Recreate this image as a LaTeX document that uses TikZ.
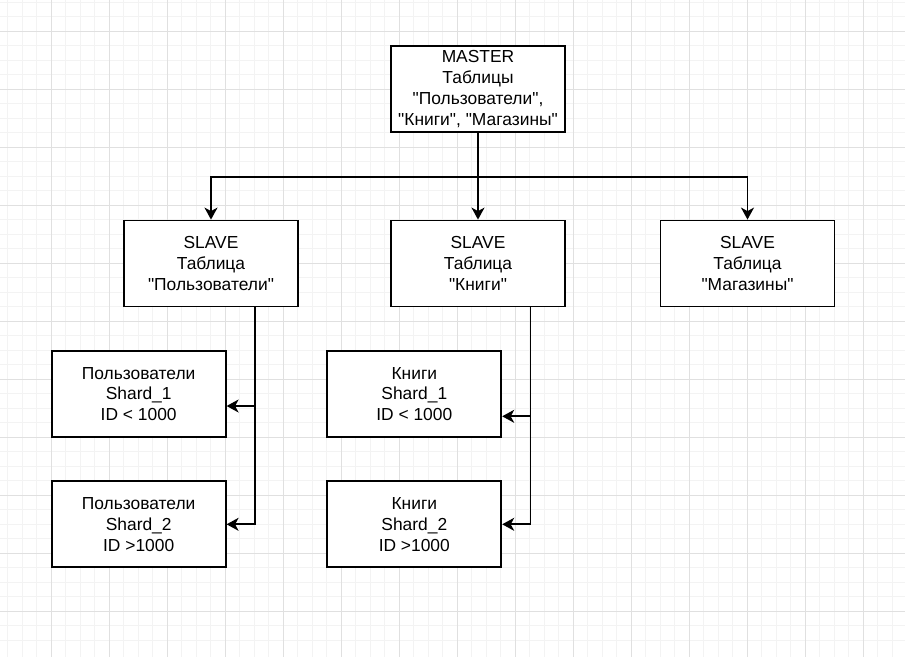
\documentclass[tikz,border=0pt]{standalone}
\usepackage{fontspec}
\newfontfamily\libsans{Liberation Sans}
\usetikzlibrary{arrows.meta}
\definecolor{gminor}{HTML}{F3F3F3}
\definecolor{gmajor}{HTML}{E0E0E0}
\tikzset{
  box/.style={draw=black, line width=1.8pt, fill=white, rectangle,
    minimum width=174pt, minimum height=86pt, inner sep=0pt, align=center,
    font=\libsans\fontsize{17.4}{20.9}\selectfont},
  arr/.style={draw=black, line width=1.8pt,
    -{Stealth[length=12pt, width=13pt, inset=3.5pt]}},
  gridminor/.style={gminor, line width=1pt},
  gridmajor/.style={gmajor, line width=1pt}
}
\begin{document}
\begin{tikzpicture}[x=1pt, y=-1pt]
\useasboundingbox (0,0) rectangle (905,657);
\fill[white] (0,0) rectangle (905,657);
% grid
\foreach \i in {1,...,62}{
  \pgfmathsetmacro\xx{-7+14.5*\i}
  \draw[gridminor] (\xx,0) -- (\xx,657);
}
\foreach \i in {1,...,46}{
  \pgfmathsetmacro\yy{-27+14.5*\i}
  \draw[gridminor] (0,\yy) -- (905,\yy);
}
\foreach \i in {1,...,16}{
  \pgfmathsetmacro\xx{-7+58*\i}
  \draw[gridmajor] (\xx,0) -- (\xx,657);
}
\foreach \i in {1,...,12}{
  \pgfmathsetmacro\yy{-27+58*\i}
  \draw[gridmajor] (0,\yy) -- (905,\yy);
}
% nodes
\node[box] (m) at (478,89) {MASTER\\Таблицы\\"Пользователи",\\"Книги", "Магазины"};
\node[box] (s1) at (211,263.5) {SLAVE\\Таблица\\"Пользователи"};
\node[box] (s2) at (478,263.5) {SLAVE\\Таблица\\"Книги"};
\node[box] (s3) at (747.5,263.5) {SLAVE\\Таблица\\"Магазины"};
\node[box] (u1) at (138.7,394) {Пользователи\\Shard\_1\\ID < 1000};
\node[box] (u2) at (138.7,524.3) {Пользователи\\Shard\_2\\ID >1000};
\node[box] (b1) at (414.3,394) {Книги\\Shard\_1\\ID < 1000};
\node[box] (b2) at (414.3,524.3) {Книги\\Shard\_2\\ID >1000};
% connectors
\coordinate (j) at (478,176.7);
\draw[arr] (m.south) -- (s2.north);
\draw[arr] (m.south) -- (j) -| (s1.north);
\draw[arr] (m.south) -- (j) -| (s3.north);
\coordinate (ua) at (255,406);
\coordinate (ba) at (530.5,416.3);
\draw[arr] (s1.south -| ua) -- (ua) -- (u1.east |- ua);
\draw[arr] (s1.south -| ua) |- (u2.east);
\draw[arr] (s2.south -| ba) -- (ba) -- (b1.east |- ba);
\draw[arr] (s2.south -| ba) |- (b2.east);
\end{tikzpicture}
\end{document}
